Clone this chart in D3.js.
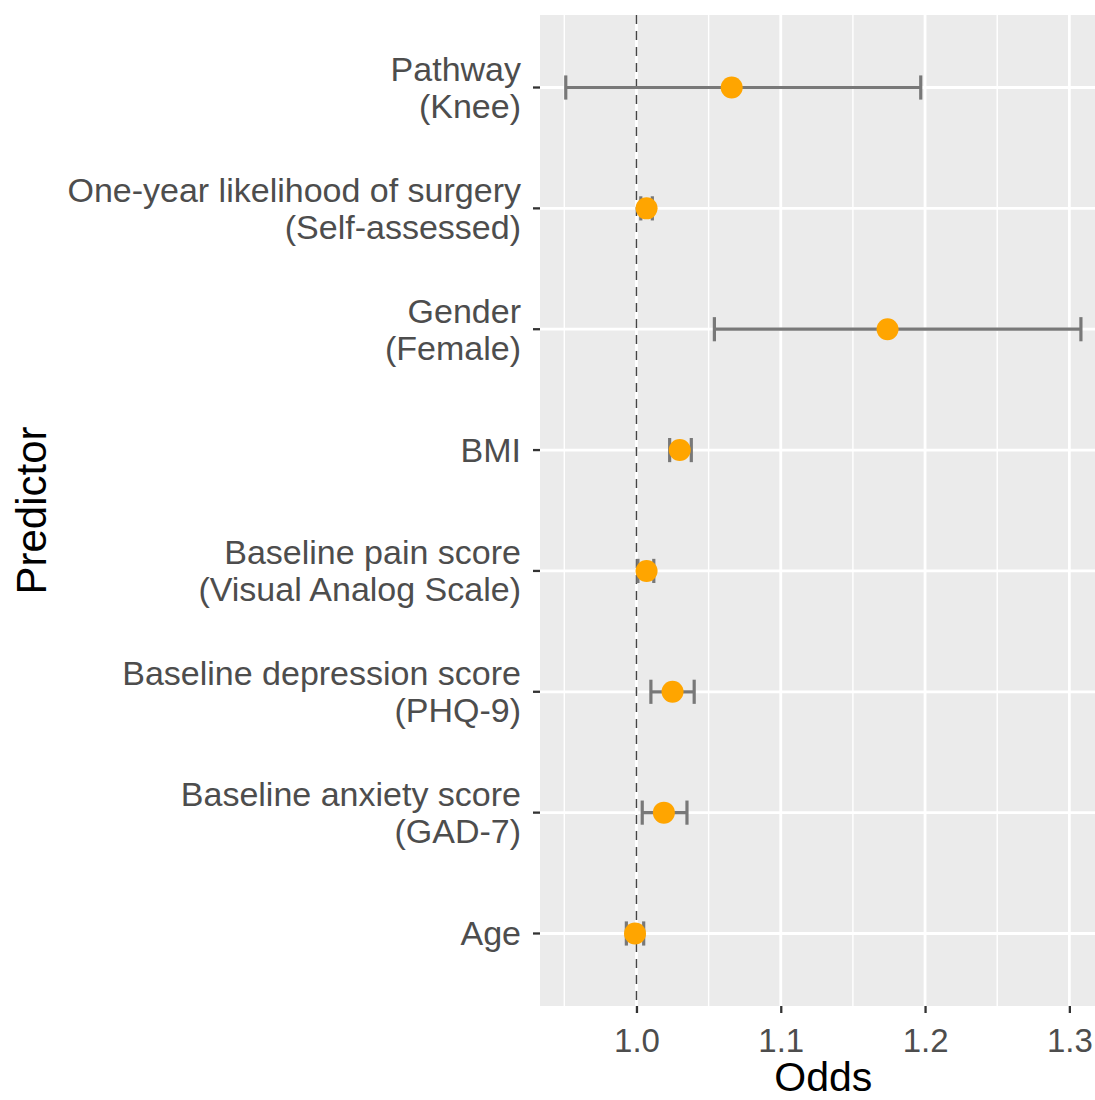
<!DOCTYPE html>
<html>
<head>
<meta charset="utf-8">
<script src="https://cdn.jsdelivr.net/npm/d3@7"></script>
<style>
  body { margin: 0; background: #fff; }
  text { font-family: "Liberation Sans", Arial, sans-serif; }
</style>
</head>
<body>
<script>
  var predictors = ["Pathway", "One-year likelihood of surgery", "Gender", "BMI",
                    "Baseline pain score", "Baseline depression score", "Baseline anxiety score", "Age"];
  var details = ["(Knee)", "(Self-assessed)", "(Female)", "",
                 "(Visual Analog Scale)", "(PHQ-9)", "(GAD-7)", ""];
  var odds  = [1.066, 1.007, 1.174, 1.030, 1.007, 1.025, 1.019, 0.999];
  var lower = [0.951, 1.003, 1.054, 1.023, 1.001, 1.010, 1.004, 0.993];
  var upper = [1.197, 1.011, 1.308, 1.038, 1.012, 1.040, 1.035, 1.005];
  var xTicks = [1.0, 1.1, 1.2, 1.3];
  var xMinor = [0.95, 1.05, 1.15, 1.25];

  var w = 1095;
  var h = 1100;

  var panel = { left: 540, top: 15, bottom: 1006 };

  var data = predictors.map(function(p, i){
    return { key: p, detail: details[i], value: odds[i], lo: lower[i], hi: upper[i] };
  });

  var svg = d3.select("body").append("svg")
              .attr("width", w)
              .attr("height", h);

  // x limits with ggplot-like 5% expansion
  var dMin = d3.min(lower), dMax = d3.max(upper);
  var pad = (dMax - dMin) * 0.05;
  var xLo = dMin - pad, xHi = dMax + pad;
  var pxPerUnit = 1443;

  var x = d3.scaleLinear()
            .domain([xLo, xHi])
            .range([panel.left, panel.left + (xHi - xLo) * pxPerUnit]);

  var y = d3.scalePoint()
            .domain(predictors)
            .range([panel.top, panel.bottom])
            .padding(0.6);

  var panelRight = x(xHi);

  // panel background
  svg.append("rect")
     .attr("x", panel.left)
     .attr("y", panel.top)
     .attr("width", panelRight - panel.left)
     .attr("height", panel.bottom - panel.top)
     .attr("fill", "#EBEBEB");

  // gridlines
  svg.selectAll(".minor")
     .data(xMinor)
     .enter()
       .append("line")
       .attr("x1", function(d){ return x(d); })
       .attr("x2", function(d){ return x(d); })
       .attr("y1", panel.top)
       .attr("y2", panel.bottom)
       .attr("stroke", "#fff")
       .attr("stroke-width", 1.4);

  svg.selectAll(".major")
     .data(xTicks)
     .enter()
       .append("line")
       .attr("x1", function(d){ return x(d); })
       .attr("x2", function(d){ return x(d); })
       .attr("y1", panel.top)
       .attr("y2", panel.bottom)
       .attr("stroke", "#fff")
       .attr("stroke-width", 2.8);

  svg.selectAll(".hgrid")
     .data(predictors)
     .enter()
       .append("line")
       .attr("x1", panel.left)
       .attr("x2", panelRight)
       .attr("y1", function(d){ return y(d); })
       .attr("y2", function(d){ return y(d); })
       .attr("stroke", "#fff")
       .attr("stroke-width", 2.8);

  // reference line at odds = 1
  svg.append("line")
     .attr("x1", x(1))
     .attr("x2", x(1))
     .attr("y1", panel.top)
     .attr("y2", panel.bottom)
     .attr("stroke", "#444")
     .attr("stroke-width", 1.5)
     .attr("stroke-dasharray", "9,7");

  // error bars
  var capH = y.step() * 0.1;
  var bars = svg.selectAll(".errorbar")
     .data(data)
     .enter()
       .append("g")
       .attr("stroke", "#787878")
       .attr("stroke-width", 3.2);

  bars.append("line")
      .attr("x1", function(d){ return x(d.lo); })
      .attr("x2", function(d){ return x(d.hi); })
      .attr("y1", function(d){ return y(d.key); })
      .attr("y2", function(d){ return y(d.key); });

  bars.append("line")
      .attr("x1", function(d){ return x(d.lo); })
      .attr("x2", function(d){ return x(d.lo); })
      .attr("y1", function(d){ return y(d.key) - capH; })
      .attr("y2", function(d){ return y(d.key) + capH; });

  bars.append("line")
      .attr("x1", function(d){ return x(d.hi); })
      .attr("x2", function(d){ return x(d.hi); })
      .attr("y1", function(d){ return y(d.key) - capH; })
      .attr("y2", function(d){ return y(d.key) + capH; });

  // points
  svg.selectAll(".point")
     .data(data)
     .enter()
       .append("circle")
       .attr("cx", function(d){ return x(d.value); })
       .attr("cy", function(d){ return y(d.key); })
       .attr("r", 11)
       .attr("fill", "#FFA500");

  // x axis
  var xAxis = svg.append("g")
     .attr("transform", "translate(0," + panel.bottom + ")")
     .call(d3.axisBottom(x).tickValues(xTicks).tickFormat(d3.format(".1f")).tickSize(7).tickPadding(16));
  xAxis.select(".domain").remove();
  xAxis.selectAll(".tick line").attr("stroke", "#333").attr("stroke-width", 2.3);
  xAxis.selectAll(".tick text")
       .attr("fill", "#4D4D4D")
       .style("font-size", "33px")
       .style("font-family", "'Liberation Sans', Arial, sans-serif");

  // y axis ticks
  svg.selectAll(".ytick")
     .data(predictors)
     .enter()
       .append("line")
       .attr("x1", panel.left - 7)
       .attr("x2", panel.left)
       .attr("y1", function(d){ return y(d); })
       .attr("y2", function(d){ return y(d); })
       .attr("stroke", "#333")
       .attr("stroke-width", 2.3);

  var lineGap = 37;
  var labels = svg.selectAll(".ylabel")
     .data(data)
     .enter()
       .append("text")
       .attr("text-anchor", "end")
       .attr("fill", "#4D4D4D")
       .style("font-size", "34px")
       .attr("x", panel.left - 19)
       .attr("y", function(d){ return y(d.key); });

  labels.append("tspan")
        .attr("x", panel.left - 19)
        .attr("dy", function(d){ return d.detail ? (-lineGap / 2 + 12) : 12; })
        .text(function(d){ return d.key; });

  labels.filter(function(d){ return d.detail; })
        .append("tspan")
        .attr("x", panel.left - 19)
        .attr("dy", lineGap)
        .text(function(d){ return d.detail; });

  // axis titles
  svg.append("text")
     .attr("text-anchor", "middle")
     .attr("fill", "#000")
     .style("font-size", "42px")
     .attr("transform", "translate(46," + (panel.top + panel.bottom) / 2 + ") rotate(-90)")
     .text("Predictor");

  svg.append("text")
     .attr("text-anchor", "middle")
     .attr("fill", "#000")
     .style("font-size", "41px")
     .attr("x", (panel.left + panelRight) / 2)
     .attr("y", 1091)
     .text("Odds");
</script>
</body>
</html>
